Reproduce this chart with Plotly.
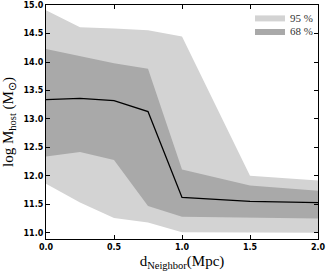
import plotly.graph_objects as go

d_neighbor = [0.0, 0.25, 0.5, 0.75, 1.0, 1.5, 2.0]
median = [13.34, 13.36, 13.32, 13.13, 11.62, 11.55, 11.53]
p68_low = [12.34, 12.42, 12.28, 11.47, 11.28, 11.27, 11.25]
p68_high = [14.23, 14.10, 13.98, 13.88, 12.11, 11.83, 11.74]
p95_low = [11.86, 11.53, 11.26, 11.18, 11.01, 11.00, 11.00]
p95_high = [14.91, 14.61, 14.59, 14.56, 14.45, 12.00, 11.92]

light = "#d3d3d3"
dark = "#a9a9a9"

fig = go.Figure()
fig.add_trace(go.Scatter(x=d_neighbor, y=p95_low, mode="lines", line=dict(width=0, color=light),
                         showlegend=False, hoverinfo="skip"))
fig.add_trace(go.Scatter(x=d_neighbor, y=p95_high, mode="lines", line=dict(width=0, color=light),
                         fill="tonexty", fillcolor=light, name="95 %", legend="legend"))
fig.add_trace(go.Scatter(x=d_neighbor, y=p68_low, mode="lines", line=dict(width=0, color=dark),
                         showlegend=False, hoverinfo="skip"))
fig.add_trace(go.Scatter(x=d_neighbor, y=p68_high, mode="lines", line=dict(width=0, color=dark),
                         fill="tonexty", fillcolor=dark, name="68 %", legend="legend2"))
fig.add_trace(go.Scatter(x=d_neighbor, y=median, mode="lines", line=dict(width=1.3, color="black"),
                         showlegend=False))

tickfont = dict(family="DejaVu Sans", size=8, color="black", weight="bold")
legfont = dict(family="Liberation Serif", size=11, color="#333")
fig.update_layout(
    width=330, height=273,
    margin=dict(l=46, r=12, t=1, b=34),
    paper_bgcolor="white", plot_bgcolor="white",
    showlegend=True,
    legend=dict(x=0.75, y=0.947, xanchor="left", yanchor="middle", font=legfont,
                bgcolor="rgba(0,0,0,0)", itemwidth=30),
    legend2=dict(x=0.75, y=0.889, xanchor="left", yanchor="middle", font=legfont,
                 bgcolor="rgba(0,0,0,0)", itemwidth=30),
    xaxis=dict(range=[0, 2.0], tickvals=[0, 0.5, 1.0, 1.5, 2.0], tickformat=".1f",
               ticks="inside", ticklen=4, tickcolor="black", showgrid=False, zeroline=False,
               showline=True, linecolor="black", linewidth=1.2, mirror="allticks",
               tickfont=tickfont, ticklabeloverflow="allow",
               title=dict(text="d<sub>Neighbor</sub>(Mpc)", standoff=4,
                          font=dict(family="Liberation Serif", size=15, color="black"))),
    yaxis=dict(range=[10.89, 15.002], tickvals=[11.0, 11.5, 12.0, 12.5, 13.0, 13.5, 14.0, 14.5, 15.0],
               tickformat=".1f",
               ticks="inside", ticklen=4, tickcolor="black", showgrid=False, zeroline=False,
               showline=True, linecolor="black", linewidth=1.2, mirror="allticks",
               tickfont=tickfont, ticklabeloverflow="allow",
               title=dict(text="log M<sub>host</sub> (M<sub>⊙</sub>)", standoff=8,
                          font=dict(family="Liberation Serif", size=15, color="black"))),
)
fig.write_html("out.html", config={"displayModeBar": False},
               post_script="document.body.style.margin='0';")
